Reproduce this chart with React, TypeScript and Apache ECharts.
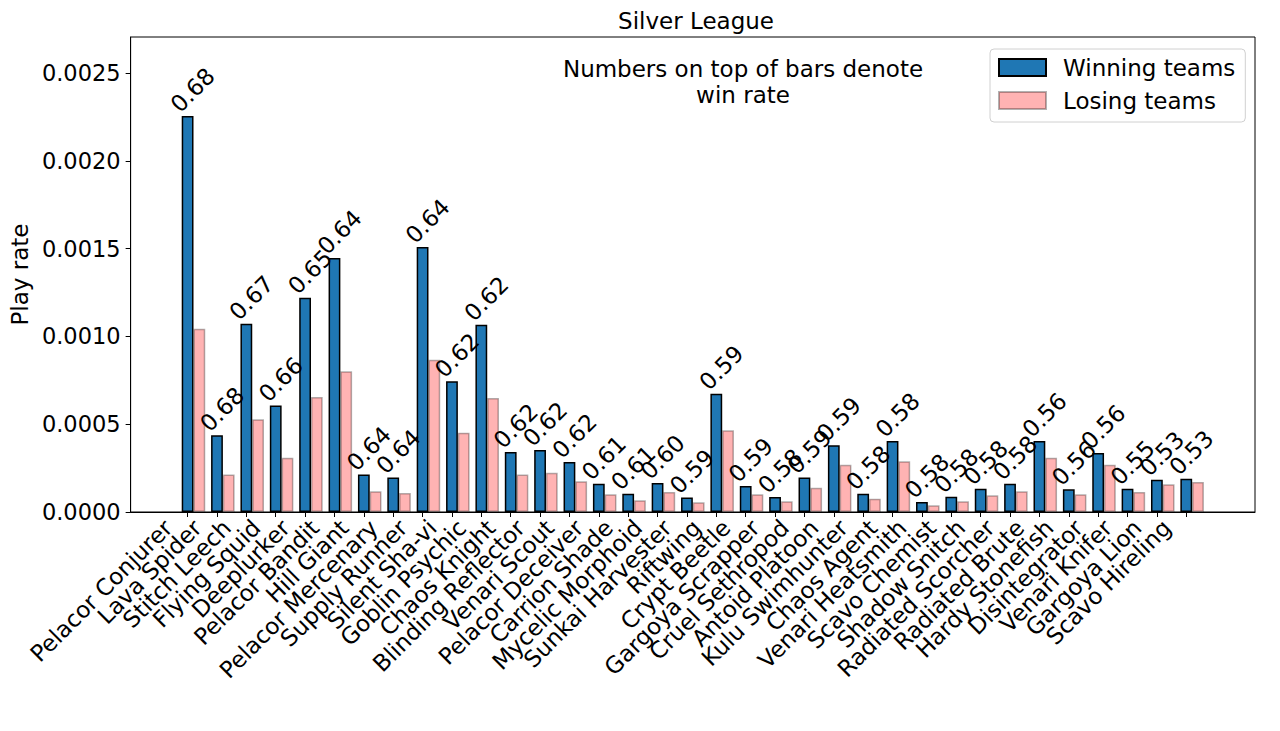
import React, { useEffect, useRef } from "react";
import * as echarts from "echarts";

const categories = [
  "Pelacor Conjurer", "Lava Spider", "Stitch Leech", "Flying Squid", "Deeplurker",
  "Pelacor Bandit", "Hill Giant", "Pelacor Mercenary", "Supply Runner", "Silent Sha-vi",
  "Goblin Psychic", "Chaos Knight", "Blinding Reflector", "Venari Scout", "Pelacor Deceiver",
  "Carrion Shade", "Mycelic Morphoid", "Sunkai Harvester", "Riftwing", "Crypt Beetle",
  "Gargoya Scrapper", "Cruel Sethropod", "Antoid Platoon", "Kulu Swimhunter", "Chaos Agent",
  "Venari Heatsmith", "Scavo Chemist", "Shadow Snitch", "Radiated Scorcher", "Radiated Brute",
  "Hardy Stonefish", "Disintegrator", "Venari Knifer", "Gargoya Lion", "Scavo Hireling",
];

const winning = [
  0.002255, 0.000437, 0.001072, 0.000607, 0.00122, 0.001446, 0.000213, 0.000196, 0.001509, 0.000744,
  0.001067, 0.000342, 0.000353, 0.000285, 0.000161, 0.000104, 0.000165, 0.000082, 0.000674, 0.000148,
  0.000085, 0.000196, 0.00038, 0.000104, 0.000404, 0.000057, 0.000087, 0.000133, 0.000161, 0.000404,
  0.000129, 0.000336, 0.000133, 0.000184, 0.00019,
];

const losing = [
  0.001044, 0.000213, 0.000528, 0.000309, 0.000655, 0.000801, 0.000118, 0.000108, 0.000867, 0.000452,
  0.000649, 0.000213, 0.000223, 0.000175, 0.000101, 0.000067, 0.000114, 0.000055, 0.000465, 0.000101,
  0.000061, 0.000138, 0.000269, 0.000076, 0.000289, 0.000038, 0.000061, 0.000095, 0.000118, 0.000309,
  0.000101, 0.000269, 0.000114, 0.000158, 0.000171,
];

const winRates = [
  "0.68", "0.68", "0.67", "0.66", "0.65", "0.64", "0.64", "0.64", "0.64", "0.62",
  "0.62", "0.62", "0.62", "0.62", "0.61", "0.61", "0.60", "0.59", "0.59", "0.59",
  "0.58", "0.59", "0.59", "0.58", "0.58", "0.58", "0.58", "0.58", "0.58", "0.56",
  "0.56", "0.56", "0.55", "0.53", "0.53",
];

const yTicks = [0, 0.0005, 0.001, 0.0015, 0.002, 0.0025];

const FONT = "DejaVu Sans";
const FS = 23;
const BAR_OFFSET = 0.4;

export default function App() {
  const ref = useRef<HTMLDivElement>(null);
  useEffect(() => {
    if (!ref.current) return;
    const chart = echarts.init(ref.current, null, { renderer: "svg" });
    const idx = categories.map((_, i) => i);
    // empty guard labels at both ends so no real label is treated as min/max label
    const labelValues = [-1, ...idx, categories.length];
    chart.setOption({
      animation: false,
      backgroundColor: "#fff",
      textStyle: { fontFamily: FONT },
      title: {
        text: "Silver League",
        left: 691,
        top: 4,
        textAlign: "center",
        textStyle: { fontFamily: FONT, fontSize: FS, fontWeight: "normal", color: "#000" },
      },
      legend: {
        left: 990,
        top: 49,
        orient: "vertical",
        padding: [7, 10, 10, 8],
        itemGap: 10,
        itemWidth: 47,
        itemHeight: 17,
        borderColor: "#d0d0d0",
        borderWidth: 1,
        borderRadius: 4,
        backgroundColor: "#fff",
        icon: "rect",
        textStyle: { fontFamily: FONT, fontSize: FS, color: "#000", lineHeight: 23, padding: [0, 0, 0, 12] },
        data: ["Winning teams", "Losing teams"],
      },
      grid: {
        left: 128,
        top: 37,
        width: 1127,
        height: 475,
        show: true,
        borderColor: "#000",
        borderWidth: 1,
        containLabel: false,
      },
      xAxis: {
        type: "value",
        min: -1.94,
        max: 36.34,
        splitLine: { show: false },
        axisLine: { show: true, onZero: false, lineStyle: { color: "#000", width: 1 } },
        axisTick: { show: true, length: 5, customValues: idx, lineStyle: { color: "#000" } },
        axisLabel: {
          customValues: labelValues,
          hideOverlap: false,
          rotate: 45,
          align: "right",
          verticalAlign: "bottom",
          padding: [0, 8, 8, 0],
          margin: 20,
          fontFamily: FONT,
          fontSize: FS,
          color: "#000",
          formatter: (v: number) => categories[Math.round(v)] ?? "",
        },
      },
      yAxis: {
        type: "value",
        min: 0,
        max: 0.002705,
        name: "Play rate",
        nameLocation: "middle",
        nameRotate: 90,
        nameGap: 97,
        nameTextStyle: { fontFamily: FONT, fontSize: FS, color: "#000" },
        splitLine: { show: false },
        axisLine: { show: true, onZero: false, lineStyle: { color: "#000", width: 1 } },
        axisTick: { show: true, length: 5, customValues: yTicks, lineStyle: { color: "#000" } },
        axisLabel: {
          customValues: yTicks,
          showMinLabel: true,
          showMaxLabel: true,
          margin: 10,
          fontFamily: FONT,
          fontSize: 22.5,
          color: "#000",
          formatter: (v: number) => v.toFixed(4),
        },
      },
      graphic: [
        {
          type: "text",
          x: 743,
          y: 56,
          style: {
            text: "Numbers on top of bars denote\nwin rate",
            fontFamily: FONT,
            fontSize: FS,
            lineHeight: 26,
            fill: "#000",
            align: "center",
            textAlign: "center",
          },
        },
      ],
      series: [
        {
          name: "Winning teams",
          type: "bar",
          barWidth: 11.8,
          barGap: "-100%",
          itemStyle: { color: "#1f77b4", borderColor: "#000", borderWidth: 1.5 },
          label: {
            show: true,
            position: [11, -26],
            rotate: 45,
            align: "center",
            verticalAlign: "middle",
            fontFamily: FONT,
            fontSize: FS,
            color: "#000",
            formatter: (p: any) => winRates[p.dataIndex],
          },
          data: winning.map((v, i) => [i, v]),
          z: 3,
        },
        {
          name: "Losing teams",
          type: "bar",
          barWidth: 11.8,
          barGap: "-100%",
          itemStyle: { color: "#ffb3b3", borderColor: "rgba(0,0,0,0.3)", borderWidth: 1.5 },
          data: losing.map((v, i) => [i + BAR_OFFSET, v]),
          z: 2,
        },
      ],
    });
    return () => chart.dispose();
  }, []);
  return (
    <div
      ref={ref}
      style={{ position: "fixed", left: 0, top: 0, width: 1280, height: 731 }}
    />
  );
}
